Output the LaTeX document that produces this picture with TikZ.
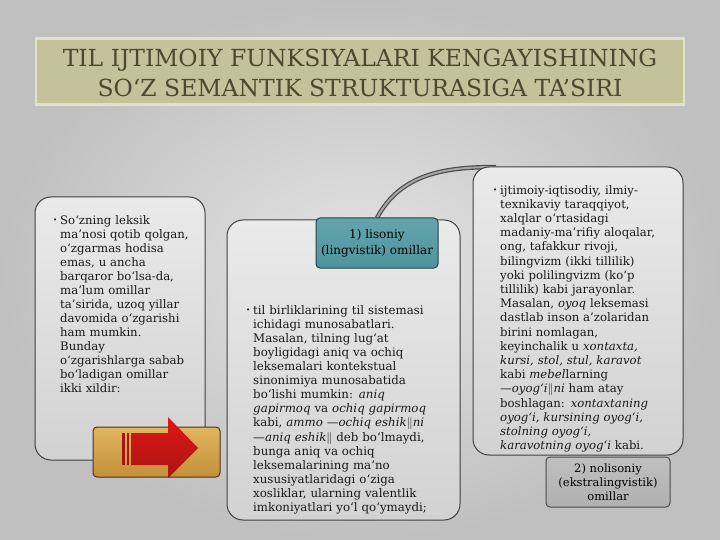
\documentclass[tikz,border=0pt]{standalone}
\usepackage{fontspec}
\usepackage{amsmath}
\setmainfont{DejaVu Serif}

\definecolor{bgout}{RGB}{192,192,192}
\definecolor{bgin}{RGB}{228,228,228}
\definecolor{khaki}{RGB}{196,194,154}
\definecolor{khakiedge}{RGB}{226,226,204}
\definecolor{titletext}{RGB}{74,74,48}
\definecolor{boxtop}{RGB}{234,234,234}
\definecolor{boxbot}{RGB}{210,210,210}
\definecolor{tealfill}{RGB}{76,148,158}
\definecolor{tealedge}{RGB}{36,66,72}
\definecolor{goldtop}{RGB}{224,182,96}
\definecolor{goldbot}{RGB}{194,144,56}
\definecolor{arrowred}{RGB}{222,24,22}
\definecolor{arrowdark}{RGB}{170,20,16}

\newcommand{\bul}{\llap{\raisebox{2pt}{\fontsize{7}{7}\selectfont\textbullet}\hspace{3pt}}}
\newcommand{\dbar}{$\|$}

\begin{document}
\begin{tikzpicture}[x=1pt,y=-1pt,
  panel/.style={draw=black!75,line width=1pt,rounded corners=16pt,top color=boxtop,bottom color=boxbot,inner sep=0pt},
  tag/.style={line width=1pt,rounded corners=4pt,align=center,inner sep=0pt},
  body/.style={anchor=north west,align=left,inner sep=0pt,text=black!90,text width=200pt}]
\useasboundingbox (0,0) rectangle (720,540);
\shade[inner color=bgin,outer color=bgout] (0,0) rectangle (720,540);
% title
\node[draw=khakiedge,line width=2.5pt,fill=khaki,minimum width=648pt,minimum height=66pt] (title) at (360,71.5) {};
\node[text=titletext,align=center,font=\fontsize{23.5}{30}\selectfont] (head) at (360,73)
  {TIL IJTIMOIY FUNKSIYALARI KENGAYISHINING\\SO‘Z SEMANTIK STRUKTURASIGA TA’SIRI};
% panels
\node[panel,minimum width=170pt,minimum height=263pt] (intro) at (120,328.5) {};
\node[panel,minimum width=233pt,minimum height=300pt] (lingbox) at (343.5,370) {};
\coordinate (joint) at (496,167);
\draw[draw=black!70,double=gray!70,double distance=2pt,line width=1.2pt]
  (377,218) to[out=62,in=180] (joint);
\node[panel,minimum width=210pt,minimum height=288pt] (socbox) at (578,311) {};
% tags
\node[tag,draw=tealedge,top color=tealfill!85!white,bottom color=tealfill,minimum width=122pt,minimum height=50pt,
  font=\fontsize{12}{16}\selectfont] (lis) at (377,243) {1) lisoniy\\(lingvistik) omillar};
\node[tag,draw=black!70,top color=gray!50,bottom color=gray!62,minimum width=124pt,minimum height=50pt,
  font=\fontsize{11.5}{14}\selectfont] (nolis) at (608,482) {2) nolisoniy\\(ekstralingvistik)\\omillar};
% arrow box
\node[tag,draw=black!60!brown,top color=goldtop,bottom color=goldbot,minimum width=127pt,minimum height=50pt] (go) at (156.5,452) {};
\fill[arrowdark] (122,433) rectangle (124.5,465);
\fill[arrowdark] (126.5,433) rectangle (129,465);
\shade[top color=arrowred,bottom color=arrowdark]
  (131,433) -- (168,433) -- (168,417) -- (198,448) -- (168,478) -- (168,465) -- (131,465) -- cycle;
% texts
\node[body,font=\fontsize{11.7}{14}\selectfont] (introtxt) at (60,215) {\bul So‘zning leksik\\
ma’nosi qotib qolgan,\\
o‘zgarmas hodisa\\
emas, u ancha\\
barqaror bo‘lsa-da,\\
ma’lum omillar\\
ta’sirida, uzoq yillar\\
davomida o‘zgarishi\\
ham mumkin.\\
Bunday\\
o‘zgarishlarga sabab\\
bo‘ladigan omillar\\
ikki xildir:};
\node[body,font=\fontsize{11.8}{14.1}\selectfont] (lingtxt) at (253,305) {\bul til birliklarining til sistemasi\\
ichidagi munosabatlari.\\
Masalan, tilning lug‘at\\
boyligidagi aniq va ochiq\\
leksemalari kontekstual\\
sinonimiya munosabatida\\
bo‘lishi mumkin: \textit{aniq}\\
\textit{gapirmoq} va \textit{ochiq gapirmoq}\\
kabi, \textit{ammo —ochiq eshik}\dbar\textit{ni}\\
\textit{—aniq eshik}\dbar{} deb bo‘lmaydi,\\
bunga aniq va ochiq\\
leksemalarining ma’no\\
xususiyatlaridagi o‘ziga\\
xosliklar, ularning valentlik\\
imkoniyatlari yo‘l qo‘ymaydi;};
\node[body,font=\fontsize{11.7}{14.2}\selectfont] (soctxt) at (500,185) {\bul ijtimoiy-iqtisodiy, ilmiy-\\
texnikaviy taraqqiyot,\\
xalqlar o‘rtasidagi\\
madaniy-ma’rifiy aloqalar,\\
ong, tafakkur rivoji,\\
bilingvizm (ikki tillilik)\\
yoki polilingvizm (ko‘p\\
tillilik) kabi jarayonlar.\\
Masalan, \textit{oyoq} leksemasi\\
dastlab inson a’zolaridan\\
birini nomlagan,\\
keyinchalik u \textit{xontaxta,}\\
\textit{kursi, stol, stul, karavot}\\
kabi \textit{mebel}larning\\
\textit{—oyog‘i}\dbar\textit{ni} ham atay\\
boshlagan: \textit{xontaxtaning}\\
\textit{oyog‘i, kursining oyog‘i,}\\
\textit{stolning oyog‘i,}\\
\textit{karavotning oyog‘i} kabi.};
\end{tikzpicture}
\end{document}
